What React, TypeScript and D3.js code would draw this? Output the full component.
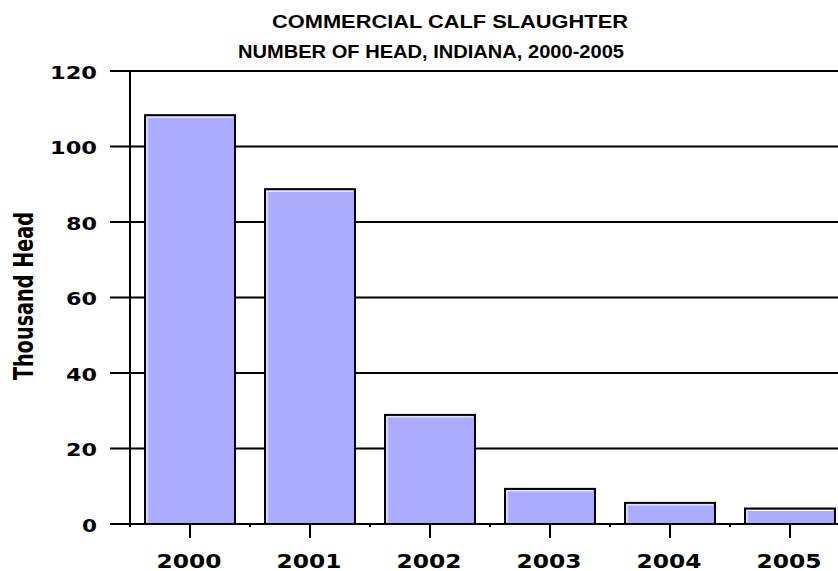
import React from 'react';
import * as d3 from 'd3';

const years = ['2000', '2001', '2002', '2003', '2004', '2005'];
const head = [108.3, 88.7, 28.9, 9.3, 5.6, 4.1];
const yTicks = [0, 20, 40, 60, 80, 100, 120];

const W = 838;
const H = 571;
const left = 130;
const right = 850;
const top = 71;
const bottom = 524;

const App = () => {
  const x = d3.scaleBand<string>().domain(years).range([left, right]).paddingInner(0.25).paddingOuter(0.125);
  const y = d3.scaleLinear().domain([0, 120]).range([bottom, top]);
  const bw = x.bandwidth();
  const step = x.step();

  return (
    <svg width={W} height={H} style={{ position: 'absolute', left: 0, top: 0, background: '#fff' }}>
      <text x={450} y={28} textAnchor="middle" fontFamily="Liberation Sans, Arial" fontWeight="bold" fontSize={19}
        textLength={356} lengthAdjust="spacingAndGlyphs">COMMERCIAL CALF SLAUGHTER</text>
      <text x={431} y={58} textAnchor="middle" fontFamily="Liberation Sans, Arial" fontWeight="bold" fontSize={19}
        textLength={386} lengthAdjust="spacingAndGlyphs">NUMBER OF HEAD, INDIANA, 2000-2005</text>

      {yTicks.map(t => (
        <g key={t}>
          <line x1={110} x2={W} y1={y(t)} y2={y(t)} stroke="#000" strokeWidth={2} />
          <text x={97} y={y(t) + 7.5} textAnchor="end" fontFamily="DejaVu Sans" fontWeight="bold" fontSize={17}
            textLength={String(t).length * 16 - 1} lengthAdjust="spacingAndGlyphs">{t}</text>
        </g>
      ))}
      <line x1={left} x2={left} y1={top} y2={bottom} stroke="#000" strokeWidth={2} />

      {years.map((yr, i) => {
        const x0 = x(yr) as number;
        const y0 = y(head[i]);
        return (
          <g key={yr}>
            <rect x={x0} y={y0} width={bw} height={bottom - y0} fill="#aaaaff" stroke="#000" strokeWidth={2} />
            <path d={`M${x0 + 2},${bottom - 1}V${y0 + 2}H${x0 + bw - 2}`} fill="none" stroke="#fff" strokeWidth={1} />
            <line x1={x0 + bw / 2} x2={x0 + bw / 2} y1={bottom} y2={538} stroke="#000" strokeWidth={2} />
            <line x1={x0 - (step - bw) / 2} x2={x0 - (step - bw) / 2} y1={bottom} y2={527} stroke="#000" strokeWidth={2} />
            <text x={x0 + bw / 2 - 1} y={568} textAnchor="middle" fontFamily="DejaVu Sans" fontWeight="bold" fontSize={19}
              textLength={65} lengthAdjust="spacingAndGlyphs">{yr}</text>
          </g>
        );
      })}
      <line x1={110} x2={W} y1={bottom} y2={bottom} stroke="#000" strokeWidth={2} />

      <text transform={`translate(33,296) rotate(-90)`} textAnchor="middle" fontFamily="DejaVu Sans Condensed, DejaVu Sans" fontWeight="bold" fontSize={26}
        textLength={168} lengthAdjust="spacingAndGlyphs">Thousand Head</text>
    </svg>
  );
};

export default App;
